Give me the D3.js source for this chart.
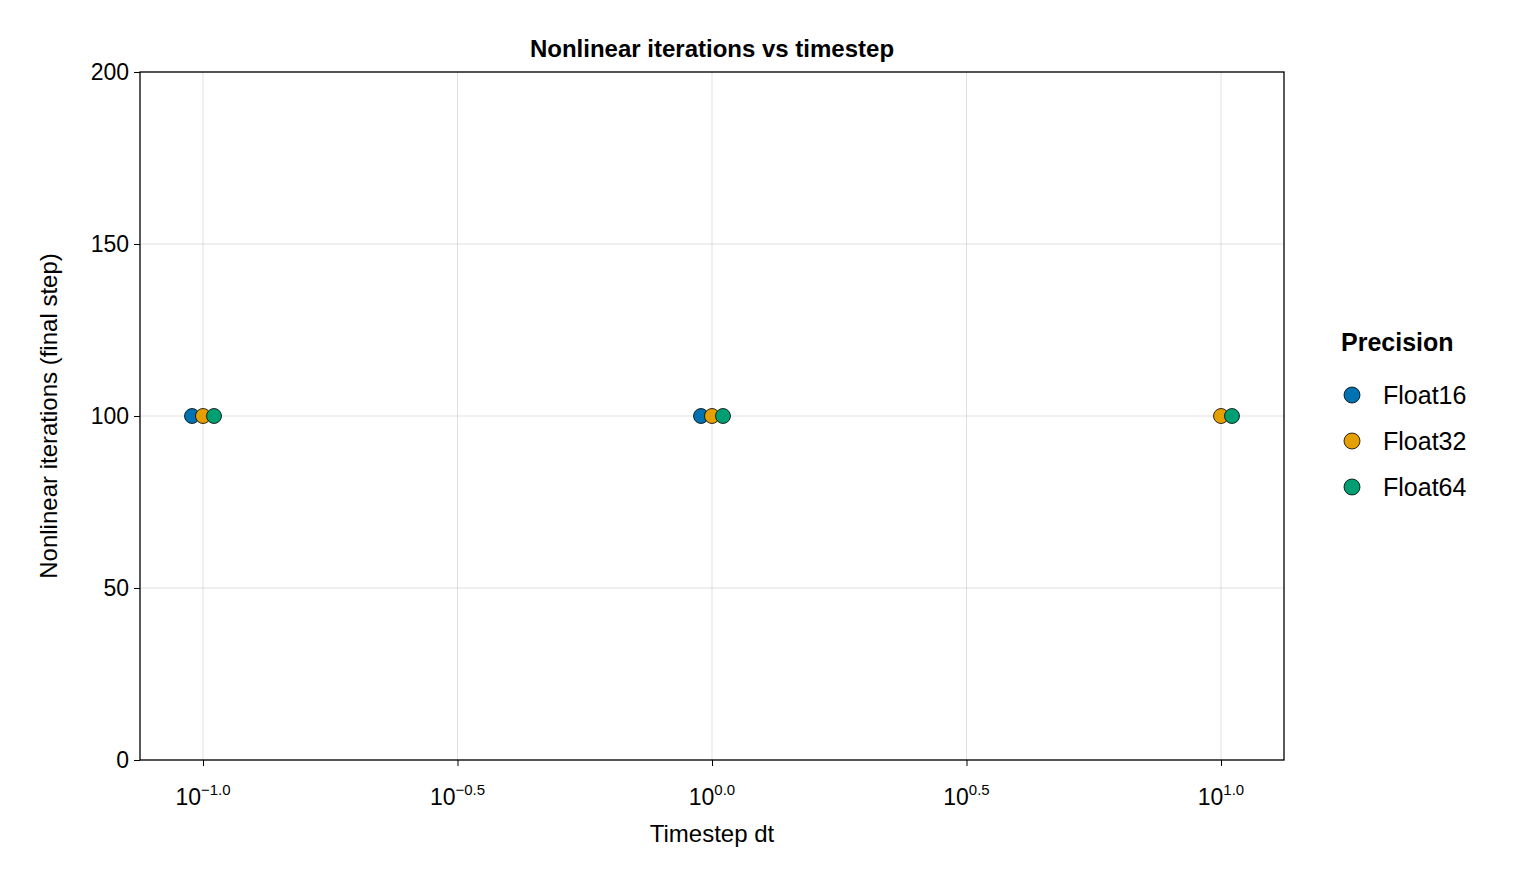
<!DOCTYPE html>
<html><head><meta charset="utf-8">
<script src="https://cdn.jsdelivr.net/npm/d3@7"></script>
<style>body{margin:0;background:#fff}text{font-family:"Liberation Sans",Arial,sans-serif}</style>
</head><body><svg id="c" width="1520" height="880"></svg>
<script>
const seriesNames = ["Float16","Float32","Float64"];
const seriesColors = ["#0072B2","#E69F00","#009E73"];
const dtFloat16 = [0.1, 1];
const itFloat16 = [100, 100];
const dtFloat32 = [0.1, 1, 10];
const itFloat32 = [100, 100, 100];
const dtFloat64 = [0.1, 1, 10];
const itFloat64 = [100, 100, 100];
const xTickExps = [-1.0, -0.5, 0.0, 0.5, 1.0];
const yTicks = [0, 50, 100, 150, 200];

const series = [
  {name: seriesNames[0], dt: dtFloat16, it: itFloat16},
  {name: seriesNames[1], dt: dtFloat32, it: itFloat32},
  {name: seriesNames[2], dt: dtFloat64, it: itFloat64}
];
const svg = d3.select("#c");
const L=140,R=1284,T=72,B=760;
const x = d3.scaleLog().domain([Math.pow(10,-1.1238),Math.pow(10,1.1238)]).range([L,R]);
const y = d3.scaleLinear().domain([0,200]).range([B,T]);
const color = d3.scaleOrdinal().domain(seriesNames).range(seriesColors);

svg.append("g").selectAll("line").data(xTickExps).join("line")
  .attr("x1",d=>x(Math.pow(10,d))).attr("x2",d=>x(Math.pow(10,d))).attr("y1",T).attr("y2",B)
  .attr("stroke","#000").attr("stroke-opacity",0.12).attr("stroke-width",1);
svg.append("g").selectAll("line").data(yTicks).join("line")
  .attr("y1",d=>y(d)).attr("y2",d=>y(d)).attr("x1",L).attr("x2",R)
  .attr("stroke","#000").attr("stroke-opacity",0.12).attr("stroke-width",1);
svg.append("rect").attr("x",L).attr("y",T).attr("width",R-L).attr("height",B-T)
  .attr("fill","none").attr("stroke","#000").attr("stroke-width",1.3);

const xa = svg.append("g").attr("transform",`translate(0,${B})`)
  .call(d3.axisBottom(x).tickValues(xTickExps.map(e=>Math.pow(10,e))).tickSize(6).tickFormat(""));
xa.select(".domain").remove();
const xl = svg.append("g").selectAll("text").data(xTickExps).join("text")
  .attr("x",d=>x(Math.pow(10,d))).attr("y",B+45).attr("text-anchor","middle")
  .style("font-size","23px");
xl.append("tspan").text("10");
xl.append("tspan").attr("dy",-10).style("font-size","15px").text(d=>(d<0?"\u2212":"")+Math.abs(d).toFixed(1));

const ya = svg.append("g").attr("transform",`translate(${L},0)`)
  .call(d3.axisLeft(y).tickValues(yTicks).tickSize(6).tickPadding(5));
ya.select(".domain").remove();
ya.selectAll("text").style("font-size","23px").attr("fill","#000");

svg.append("text").attr("x",(L+R)/2).attr("y",57).attr("text-anchor","middle")
  .style("font-size","24px").attr("font-weight","bold").text("Nonlinear iterations vs timestep");
svg.append("text").attr("x",(L+R)/2).attr("y",842).attr("text-anchor","middle")
  .style("font-size","24px").text("Timestep dt");
svg.append("text").attr("transform",`translate(57,${(T+B)/2}) rotate(-90)`).attr("text-anchor","middle")
  .style("font-size","24px").text("Nonlinear iterations (final step)");

const dodge = [-11,0,11];
series.forEach((s,i)=>{
  svg.append("g").selectAll("circle").data(s.dt.map((d,j)=>({dt:d,it:s.it[j]}))).join("circle")
    .attr("cx",d=>x(d.dt)+dodge[i]).attr("cy",d=>y(d.it)).attr("r",7.5)
    .attr("fill",color(s.name)).attr("stroke","#000").attr("stroke-width",0.8);
});

svg.append("text").attr("x",1341).attr("y",351).style("font-size","25px").attr("font-weight","bold").text("Precision");
const lg = svg.append("g").selectAll("g").data(seriesNames).join("g")
  .attr("transform",(d,i)=>`translate(0,${395+i*46})`);
lg.append("circle").attr("cx",1352).attr("cy",0).attr("r",8).attr("fill",d=>color(d)).attr("stroke","#000").attr("stroke-width",0.8);
lg.append("text").attr("x",1383).attr("y",9).style("font-size","25px").text(d=>d);
</script></body></html>
